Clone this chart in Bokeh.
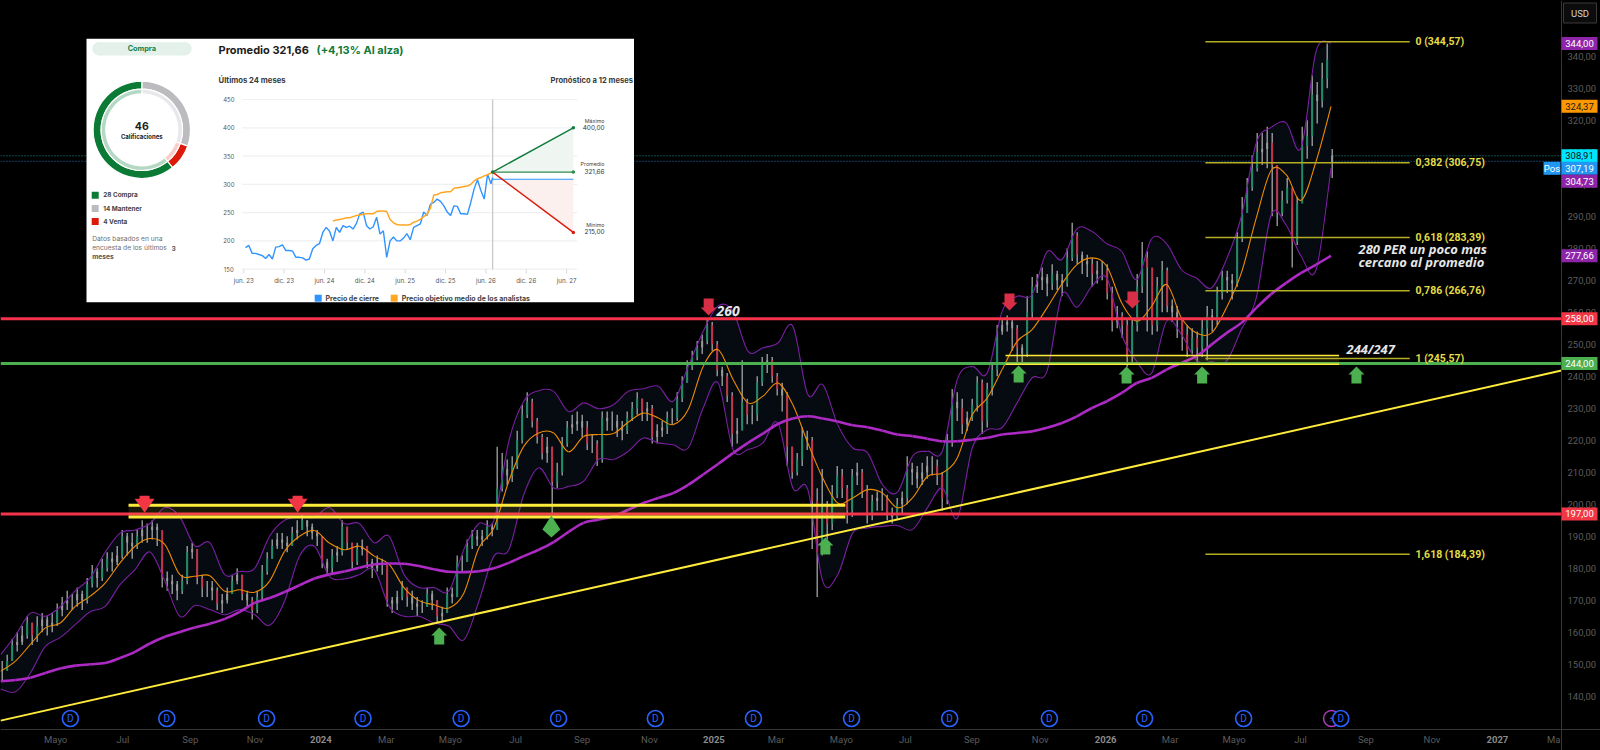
from math import pi
from bokeh.plotting import figure
from bokeh.models import (FixedTicker, Range1d, GlobalInlineStyleSheet)
from bokeh.core.properties import value
from bokeh.embed import file_html
from bokeh.resources import INLINE

# ---------- main chart data (months since Jan 2023, prices in USD) ----------
tick_months = [3.9,5.96,8.02,10.0,12.01,14.01,15.97,17.97,20.0,22.06,24.03,25.93,27.93,29.89,31.92,34.01,36.01,37.98,39.94,41.97,43.97,45.99,47.99]
tick_labels = ["Mayo","Jul","Sep","Nov","2024","Mar","Mayo","Jul","Sep","Nov","2025","Mar","Mayo","Jul","Sep","Nov","2026","Mar","Mayo","Jul","Sep","Nov","2027"]
price_ticks = list(range(140, 350, 10))

bar_close = [148,151,156,157,159,163,159,162,164,162,163,167,169,170,170,172,170,175,179,177,180,183,182,184,190,188,187,190,192,192,193,192,
177,176,175,173,176,185,186,177,174,174,173,169,170,172,176,178,172,170,167,171,179,183,187,189,188,187,191,192,195,193,191,190,182,180,184,185,193,188,182,186,187,182,180,181,181,170,169,171,174,171,169,168,168,172,170,165,166,172,171,182,182,187,190,189,190,193,192,
205,
211,209,212,220,228,232,226,221,216,218,207,210,219,224,225,226,224,219,219,214,227,226,226,224,223,227,230,233,229,230,221,223,224,227,227,233,238,243,246,249,251,256,250,242,240,234,222,223,232,228,228,238,244,245,240,236,234,218,210,214,221,220,201,185,199,194,203,209,205,198,209,210,204,197,201,202,202,197,196,200,202,211,210,208,210,212,212,209,202,220,232,230,225,227,231,238,226,236,242,254,
256,257,255,249,247,260,268,270,271,269,272,270,269,277,284,278,276,275,272,273,273,266,257,259,256,246,256,268,277,274,256,268,273,262,260,258,253,248,252,249,255,259,258,266,271,270,269,283,291,
299,305,310,311,313,306,291,295,299,282,294,312,315,328,326,333,339,307]
bar_high = [151,153,158,160,162,165,163,165,166,165,166,169,171,173,172,174,173,177,181,180,183,185,185,187,192,191,191,192,195,194,195,194,
184,179,178,176,178,187,188,186,178,176,176,174,172,174,178,180,178,173,171,173,181,185,189,191,191,190,193,195,197,195,194,192,190,183,186,187,195,193,188,188,189,187,183,184,183,181,171,173,176,174,173,171,170,174,173,170,168,174,174,184,184,189,192,192,192,195,194,
218,
216,214,215,223,231,235,233,227,222,221,218,213,221,226,228,229,228,226,222,220,229,229,229,228,226,229,232,235,233,232,231,225,226,229,230,235,240,245,248,251,253,258,257,251,243,241,235,227,245,233,231,240,246,247,246,241,238,235,218,216,224,223,221,205,211,201,206,212,211,206,211,213,211,206,203,204,205,203,199,202,204,215,213,212,213,215,215,214,210,222,236,235,233,229,233,240,239,238,244,256,
258,259,258,256,250,265,271,272,274,272,275,273,272,280,288,285,279,278,277,276,276,275,268,262,260,258,258,272,282,279,262,271,276,274,264,262,258,256,255,254,258,262,261,268,273,273,272,285,296,
302,309,316,316,318,316,306,298,302,293,296,318,320,334,332,338,344,311]
bar_low = [145,148,151,154,156,158,156,157,160,159,160,162,165,167,167,168,167,169,174,174,176,179,179,181,183,184,183,186,188,188,189,187,
174,173,172,170,172,175,183,175,171,171,170,167,166,169,172,175,170,168,164,166,170,178,183,186,186,185,187,189,192,190,189,187,180,178,178,182,184,186,180,181,184,180,177,179,178,168,166,167,170,168,167,165,166,168,167,163,163,166,169,171,179,182,186,187,187,189,190,
197,
204,206,207,211,219,227,224,219,214,213,197,205,209,218,222,223,221,217,216,212,213,223,223,221,220,222,226,228,226,226,219,219,221,222,225,226,232,238,242,245,247,250,248,240,237,232,218,219,224,225,225,226,237,241,238,234,229,212,208,209,212,217,186,171,184,189,192,202,202,194,196,206,202,194,195,198,198,195,194,195,197,200,206,205,206,208,209,206,198,200,218,226,222,223,226,229,222,224,234,240,
253,254,248,244,244,246,258,266,267,265,267,267,265,268,276,275,272,271,268,269,270,264,254,255,252,243,244,254,266,254,253,254,260,260,257,252,248,246,247,244,246,245,254,256,264,266,264,268,282,
293,298,304,306,305,290,287,290,294,274,281,306,308,312,319,324,330,302]
bar_open_gaps = {266: 309}

bb_upper = [153,159,166,165,168,173,177,185,191,192,194,199,196,187,188,178,179,180,190,195,196,196,199,194,194,188,190,178,174,174,173,186,194,195,
219.7,232.2,235.5,235.3,229,231.7,229.9,231.1,235.3,236.1,236.9,232.2,243.1,254,262,260.3,247.8,248.9,250.4,255.6,234.3,237.4,224.9,217.6,216.1,206.1,203.8,215,216.6,216.6,239,243.1,241,
260.3,265,265.5,278.9,276.5,286.1,285.3,281.4,279,270.2,283,281.4,273.3,270.7,267.6,276.5,290,
312.9,317.8,319.2,311.4,341.6,344.2]
bb_lower = [142.3,141.4,147.3,155.6,158.4,162.4,166.4,168.1,174.9,179.6,185.1,175.9,165,168.4,167.1,165.5,167.1,165.5,162.2,169.7,183.8,186.9,177.5,176.7,178,179.6,168.1,165,165,162.9,161.9,157.7,169.7,183.8,
185.8,203,211.4,205.1,205.6,207.2,214,214,216.6,220.7,219.2,218.6,217.6,230.1,237.9,217.1,217.1,219.2,225.4,205.1,204.6,175.9,178,191,192.6,193.1,193.4,192.1,198.9,205.1,195.7,217.6,223.3,
224,231.7,239.5,241.6,265.5,261.6,268.1,270.7,253,244.7,241,257.2,253,244.9,244.5,244.7,254.6,
264.5,290.5,287.2,277.5,273.3,305.1]
bb_basis = [147.8,151,156.2,161.4,162.9,168.1,171.3,175.4,181.7,186.9,189.3,187.4,178,177.5,177.7,172.8,173.3,172.5,176,185.3,190,191.8,187.9,185.8,186.9,183.8,181.2,173.9,169.9,168.6,167.6,172.3,186.4,192.6,
207.2,218.1,222.3,222.3,216.4,221.2,221.8,222.1,225.7,228.5,227,224.9,229.6,243.1,248.3,239,231.7,233.8,237.9,231.1,219.2,208.2,200.4,202,204.6,203.5,198.9,202,208.7,209.8,214.5,228,233.2,
242.1,250.9,254.6,261.4,268.9,274.9,277,274.4,262.9,257.2,261.9,268.7,258.2,253.5,253.5,261.4,272.3,
289.5,304.4,303,295,307.2,324.37]
ma_long = [144.7,145.1,145.8,147.3,148.7,149.6,150,150.4,152,153.9,156.5,158.6,160.1,161.5,162.7,164.2,166.4,169.2,170.7,172.6,174.7,176.8,178.1,179,180.2,181.2,181.5,181.4,180.7,179.7,178.9,178.8,179.1,180,
181.7,183.8,185.8,188.2,191.4,194.2,195.2,196.3,198.3,200.4,202,203.5,206.1,209.3,212.6,216,219.2,222.1,225.1,226.8,227.5,226.8,225.9,224.7,224.1,223,221.8,221.3,220.5,219.7,219.7,220.2,220.8,
221.8,222.3,222.8,223.9,225.4,227.5,230.1,232.2,234.8,237.9,239.5,242.1,244.2,246.3,249.9,253.5,256.7,
261.4,265.7,269.2,272.3,274.9,277.66]

red_levels = [258.0, 197.0]
green_level = 244.0
channel_high = [199.7, 246.5]
channel_low = [196.0, 243.75]
channel_start = [6.13, 32.95]
channel_end = [28.05, 43.15]
trend_month = [2.214, 49.95]
trend_price = [132.4, 241.8]
fib_levels = [344.57, 306.75, 283.39, 266.76, 245.57, 184.39]
fib_labels = ["0 (344,57)", "0,382 (306,75)", "0,618 (283,39)", "0,786 (266,76)", "1 (245,57)", "1,618 (184,39)"]
fib_start, fib_end = 39.06, 45.31
last_cyan, last_blue = 308.91, 307.19

up_month = [15.63, 27.44, 33.35, 36.65, 38.96, 43.68]
up_price = [161.5, 189.6, 243.4, 243.1, 243.1, 243.1]
diamond_month, diamond_price = 19.06, 196.5
down_month = [23.87, 33.07, 36.83]
down_price = [259.0, 260.6, 261.2]
wide_down_month = [6.62, 11.3]
wide_down_price = [197.4, 197.4]
div_month = [4.35, 7.3, 10.35, 13.3, 16.3, 19.28, 22.24, 25.24, 28.24, 31.24, 34.29, 37.2, 40.23, 43.2]
event_month = 42.92

tag_labels = ["344,00","324,37","308,91","307,19","304,73","277,66","258,00","244,00","197,00"]
tag_prices = [344.0,324.37,308.91,307.19,304.73,277.66,258.0,244.0,197.0]
tag_fill = ["#8e24aa","#ff9800","#00e5ff","#2196f3","#8e24aa","#8e24aa","#f23645","#4caf50","#f23645"]
tag_ink = ["#ffffff","#1a1a1a","#101010","#ffffff","#ffffff","#ffffff","#ffffff","#ffffff","#ffffff"]
tag_shift = [0,0,0,-7,-12,0,0,0,0]

# ---------- inset data ----------
rating_counts = [14, 4, 28]
rating_names = ["28 Compra", "14 Mantener", "4 Venta"]
inset_y_ticks = [450,400,350,300,250,200,150]
inset_x_ticks = [0,6,12,18,24,30,36,42,48]
inset_x_labels = ["jun. 23","dic. 23","jun. 24","dic. 24","jun. 25","dic. 25","jun. 26","dic. 26","jun. 27"]
inset_close = [188,192,178,178,176,174,169,176,168,189,190,193,183,183,182,171,171,170,166,168,186,192,195,215,224,217,200,224,215,227,224,226,221,231,248,251,227,221,225,242,212,218,171,200,207,200,200,205,213,202,224,227,230,251,245,265,268,274,270,262,251,245,262,261,248,248,247,268,292,308,289,274,318,301,312]
inset_target = [235,237,238,239,241,241,243,245,246,247,248,248,248,252,253,253,252,238,232,229,228,228,228,229,233,235,238,243,247,258,281,282,285,286,287,287,293,294,295,296,297,300,306,310,312,315,317,320,321.66]
fc_now, fc_end = 37.0, 49.0
fc_avg, fc_max, fc_min, fc_last = 321.66, 400.0, 215.0, 309.0

# ---------- scales: the frame fills the page, axes are pinned inside it ----------
PX_MONTH = 32.7
PX_PRICE = 3.2
X0 = 2.214
Y1 = 357.44

def mx(px): return X0 + px / PX_MONTH
def py(y): return Y1 - y / PX_PRICE

X1 = mx(1561)            # month at the price axis
XR = mx(1600)
Y0 = py(750)
FONT = value("Roboto")

p = figure(width=1600, height=750, output_backend="svg", toolbar_location=None,
           x_range=Range1d(X0, XR), y_range=Range1d(Y0, Y1),
           y_axis_location="right", background_fill_color="#000000", border_fill_color="#000000",
           min_border_left=0, min_border_top=0, min_border_right=0, min_border_bottom=0,
           outline_line_color=None)
p.stylesheets = [GlobalInlineStyleSheet(css="html,body{margin:0;padding:0;background:#000;overflow:hidden}")]
p.grid.visible = False

ya = p.yaxis[0]
ya.fixed_location = X1
ya.ticker = FixedTicker(ticks=price_ticks)
ya.major_label_overrides = {t: f"{t},00" for t in price_ticks}
ya.major_label_text_color = "#5c5c5c"
ya.major_label_text_font = "Roboto"
ya.major_label_text_font_size = "9.5px"
ya.major_tick_line_color = None
ya.major_tick_in = 0
ya.major_tick_out = 0
ya.minor_tick_line_color = None
ya.minor_tick_in = 0
ya.minor_tick_out = 0
ya.axis_line_color = "#363636"
ya.major_label_standoff = 6

xa = p.xaxis[0]
xa.fixed_location = py(729)
xa.ticker = FixedTicker(ticks=tick_months)
xa.major_label_overrides = {m: ("" if l.isdigit() else l) for m, l in zip(tick_months, tick_labels)}
xa.major_label_text_color = "#5c5c5c"
xa.major_label_text_font = "Roboto"
xa.major_label_text_font_size = "9.5px"
xa.major_tick_line_color = None
xa.major_tick_in = 0
xa.major_tick_out = 0
xa.minor_tick_line_color = None
xa.minor_tick_in = 0
xa.minor_tick_out = 0
xa.axis_line_color = "#363636"
xa.major_label_standoff = 4

# ---------- last price dotted lines ----------
p.line([X0, X1], [last_cyan, last_cyan], line_color="#0f9a9a", line_width=1, line_dash="1 2")
p.line([X0, X1], [last_blue, last_blue], line_color="#1f78c8", line_width=1, line_dash="1 2")

# ---------- bands, candles, lines ----------
line_x = [X0 + j * 14.95 / PX_MONTH for j in range(90)]
bar_x = [X0 + (1.67 + i * 5.0) / PX_MONTH for i in range(267)]
bar_open = [bar_close[0]] + bar_close[:-1]
for k, v in bar_open_gaps.items():
    bar_open[k] = v

def curve(xs, ys, **kw):
    """Draw a smooth path through the read points (one Bezier per pair of points)."""
    n = len(xs)
    cx0 = [xs[i] + (xs[i + 1] - xs[max(i - 1, 0)]) / 6 for i in range(n - 1)]
    cy0 = [ys[i] + (ys[i + 1] - ys[max(i - 1, 0)]) / 6 for i in range(n - 1)]
    cx1 = [xs[i + 1] - (xs[min(i + 2, n - 1)] - xs[i]) / 6 for i in range(n - 1)]
    cy1 = [ys[i + 1] - (ys[min(i + 2, n - 1)] - ys[i]) / 6 for i in range(n - 1)]
    p.bezier(x0=xs[:-1], y0=ys[:-1], x1=xs[1:], y1=ys[1:], cx0=cx0, cy0=cy0, cx1=cx1, cy1=cy1, **kw)

p.varea(line_x, bb_lower, bb_upper, fill_color="#060b11")
p.segment(bar_x, bar_low, bar_x, bar_high, line_color="#c2c2c2", line_width=1.1)
body_col = ["#9a9a9a" if abs(c - o) <= 2 else ("#1f8a66" if c > o else "#c2324a") for o, c in zip(bar_open, bar_close)]
p.vbar(bar_x, width=0.06, bottom=bar_open, top=bar_close, fill_color=body_col, line_color=None)
curve(line_x, bb_upper, line_color="#7b1fa2", line_width=1.1)
curve(line_x, bb_lower, line_color="#7b1fa2", line_width=1.1)
curve(line_x, bb_basis, line_color="#ef8c00", line_width=1.1)
curve(line_x, ma_long, line_color="#ad2bc4", line_width=2.6)

# ---------- levels ----------
for lv in red_levels:
    p.line([X0, X1], [lv, lv], line_color="#f5334b", line_width=3)
p.line([X0, X1], [green_level, green_level], line_color="#4caf50", line_width=3)
for hi, lo, a, b, w in zip(channel_high, channel_low, channel_start, channel_end, [3, 1.6]):
    p.quad(left=a, right=b, bottom=lo, top=hi, fill_color="#ffeb3b", fill_alpha=0.1, line_color=None)
    p.line([a, b], [hi, hi], line_color="#ffeb3b", line_width=w)
    p.line([a, b], [lo, lo], line_color="#ffeb3b", line_width=w)
p.line(trend_month, trend_price, line_color="#ffeb3b", line_width=2)

for lv, lb in zip(fib_levels, fib_labels):
    p.line([fib_start, fib_end], [lv, lv], line_color="#b5ad24", line_width=1.5)
p.text(x=[mx(1415)] * 6, y=fib_levels, text=fib_labels, text_font=FONT, text_font_size="10.5px",
       text_font_style="bold", text_color="#e3dc45", text_baseline="middle")

# ---------- arrows ----------
def block(mc, pc, direction, half=8, head=8, length=17, stem=5):
    dx = lambda v: v / PX_MONTH
    d = direction / PX_PRICE
    xs = [mc, mc + dx(half), mc + dx(stem), mc + dx(stem), mc - dx(stem), mc - dx(stem), mc - dx(half)]
    ys = [pc, pc - d * head, pc - d * head, pc - d * length, pc - d * length, pc - d * head, pc - d * head]
    return xs, ys

gx, gy = zip(*[block(m, v, 1) for m, v in zip(up_month, up_price)])
p.patches(list(gx), list(gy), fill_color="#4caf50", line_color=None)
k_w, k_h, k_l = 9 / PX_MONTH, 14 / PX_PRICE, 22 / PX_PRICE
p.patch([diamond_month, diamond_month + k_w, diamond_month, diamond_month - k_w],
        [diamond_price, diamond_price - k_h, diamond_price - k_l, diamond_price - k_h],
        fill_color="#4caf50", line_color=None)
rx, ry = zip(*[block(m, v, -1) for m, v in zip(down_month, down_price)])
p.patches(list(rx), list(ry), fill_color="#d92f46", line_color=None)
wx, wy = zip(*[block(m, v, -1, half=10, head=14, length=17) for m, v in zip(wide_down_month, wide_down_price)])
p.patches(list(wx), list(wy), fill_color="#f23645", line_color=None)

# ---------- dividend circles ----------
div_price = [py(718)] * len(div_month)
p.scatter([event_month], [py(718)], size=16, marker="circle", fill_color="#000000", line_color="#b03ac0", line_width=1.4)
p.text(x=[event_month], y=[py(718)], text=["\u26a1"], text_font=value("DejaVu Sans"), text_font_size="9px",
       text_color="#b03ac0", text_align="center", text_baseline="middle")
p.scatter(div_month, div_price, size=16, marker="circle", fill_color="#000000", line_color="#2962ff", line_width=1.6)
p.text(x=div_month, y=div_price, text=["D"] * len(div_month), text_font=FONT, text_font_size="10px",
       text_color="#2962ff", text_align="center", text_baseline="middle")

# ---------- hand written notes ----------
def note(px, y, t, size=13):
    p.text(x=[mx(px)], y=[py(y)], text=[t], text_font=value("Open Sans"), text_font_size=f"{size}px",
           text_font_style="bold italic", text_color="#e6e6e6", text_baseline="middle")
note(716, 310, "260", 14)
note(1346, 348, "244/247", 13)
note(1358, 248, "280 PER un poco mas", 13)
note(1358, 261, "cercano al promedio", 13)

# ---------- inset (white panel with analyst ratings) ----------
IPX, IPY = 6.725, 0.5657
def ix(px): return (px - 243.3) / IPX
def iy(y): return 150 + (268.7 - y) / IPY
p.extra_x_ranges = {"ix": Range1d(ix(0), ix(1600))}
p.extra_y_ranges = {"iy": Range1d(iy(750), iy(0))}
IR = dict(x_range_name="ix", y_range_name="iy")

p.quad(left=ix(86), right=ix(633.5), bottom=iy(301.7), top=iy(38.3), fill_color="#ffffff", line_color=None, **IR)

def itext(px, y, t, size, color="#333333", bold=False, align="left"):
    p.text(x=[ix(px)], y=[iy(y)], text=[t], text_font=value("Inter"), text_font_size=f"{size}px",
           text_color=color, text_font_style="bold" if bold else "normal", text_align=align,
           text_baseline="middle", **IR)

# pill
p.scatter([ix(98.5), ix(184.5)], [iy(48.3)] * 2, size=13.5, marker="circle", fill_color="#e4f1ea", line_color=None, **IR)
p.quad(left=ix(98.5), right=ix(184.5), bottom=iy(55), top=iy(41.7), fill_color="#e4f1ea", line_color=None, **IR)
itext(141.3, 48.3, "Compra", 7.3, "#12804a", True, "center")
itext(218, 49.5, "Promedio 321,66", 11, "#1c1c1c", True)
itext(316, 49.5, "(+4,13% Al alza)", 11, "#0f7a3a", True)
itext(218, 79.7, "Últimos 24 meses", 7.7, "#3a3a3a", True)
itext(632.5, 79.7, "Pronóstico a 12 meses", 7.6, "#3a3a3a", True, "right")

# donut (counts run clockwise from twelve o'clock)
dark = ["#bcbcc0", "#dc1a0a", "#0a7a35"]
light = ["#e8e8ec", "#f8cdc8", "#b4d8c3"]
total = sum(rating_counts)
ang = pi / 2
for c, d, l in zip(rating_counts, dark, light):
    nxt = ang - 2 * pi * c / total
    for inner, outer, col in [(40.7, 48.7, d), (36, 40.7, l)]:
        p.annular_wedge(x=[ix(141.3)], y=[iy(129.3)], inner_radius=inner, outer_radius=outer,
                        inner_radius_units="screen", outer_radius_units="screen",
                        start_angle=nxt, end_angle=ang, fill_color=col, line_color="#ffffff", line_width=1.2, **IR)
    ang = nxt
itext(141.3, 125.3, "46", 10.5, "#1c1c1c", True, "center")
itext(141.3, 135.7, "Calificaciones", 6, "#1c1c1c", True, "center")

for name, col, y in zip(rating_names, ["#0a7a35", "#bcbcc0", "#dc1a0a"], [194.7, 208, 221]):
    p.scatter([ix(94.7)], [iy(y)], size=7, marker="square", fill_color=col, line_color=None, **IR)
    itext(102.7, y, name, 6.4, "#444444", True)
itext(91.7, 238.7, "Datos basados en una", 6.7, "#707070")
itext(91.7, 247.7, "encuesta de los últimos", 6.7, "#707070")
itext(171, 247.7, "3", 6.7, "#555555", True)
itext(91.7, 256.3, "meses", 6.7, "#555555", True)

# inset axes
x_end = ix(576.7)
x_start = ix(241.7)
for t in inset_y_ticks:
    p.line([x_start, x_end], [t, t], line_color="#eef0f2", line_width=1.2, **IR)
    p.text(x=[ix(228.3)], y=[t], text=[str(t)], text_font=value("Inter"), text_font_size="6px", text_color="#555555",
           text_align="center", text_baseline="middle", **IR)
for t, lb in zip(inset_x_ticks, inset_x_labels):
    p.line([t, t], [150, iy(273)], line_color="#d8dadd", line_width=1, **IR)
    p.text(x=[t], y=[iy(280.3)], text=[lb], text_font=value("Inter"), text_font_size="6.2px", text_color="#555555",
           text_align="center", text_baseline="middle", **IR)
p.line([fc_now, fc_now], [150, 450], line_color="#c8c8c8", line_width=1.3, **IR)

# forecast
cross = fc_now + (fc_avg - fc_last) / (fc_avg - fc_min) * (fc_end - fc_now)
p.patch([fc_now, fc_end, fc_end], [fc_avg, fc_max, fc_avg], fill_color="#eff6f1", line_color=None, **IR)
p.patch([cross, fc_end, fc_end], [fc_last, fc_last, fc_min], fill_color="#fbf0ee", line_color=None, **IR)

close_m = [0.25 + 0.5 * i for i in range(74)] + [fc_now]
p.line(close_m, inset_close, line_color="#2f94ff", line_width=1.4, **IR)
p.line(close_m[26:], inset_target, line_color="#ffa722", line_width=1.5, **IR)
p.line([fc_now, fc_end], [fc_last, fc_last], line_color="#2f94ff", line_width=1.2, **IR)
for v, col in [(fc_max, "#0f7a3a"), (fc_avg, "#2e8b4e"), (fc_min, "#dc1a0a")]:
    p.line([fc_now, fc_end], [fc_avg, v], line_color=col, line_width=1.4, **IR)
    p.scatter([fc_end], [v], size=3.5, marker="circle", fill_color=col, line_color=None, **IR)
p.scatter([fc_now], [fc_avg], size=3.5, marker="circle", fill_color="#0f7a3a", line_color=None, **IR)

for lab, val, y1, y2 in [("Máximo", "400,00", 120.3, 127.3), ("Promedio", "321,66", 163.7, 171), ("Mínimo", "215,00", 224, 231.3)]:
    itext(604, y1, lab, 5.3, "#444444", False, "right")
    itext(604, y2, val, 6.4, "#333333", False, "right")

p.scatter([ix(317.7)], [iy(297.7)], size=7, marker="square", fill_color="#2f94ff", line_color=None, **IR)
itext(325, 297.7, "Precio de cierre", 7, "#444444", True)
p.scatter([ix(393.7)], [iy(297.7)], size=7, marker="square", fill_color="#ffa722", line_color=None, **IR)
itext(401.3, 297.7, "Precio objetivo medio de los analistas", 7, "#444444", True)

# ---------- year labels on the time axis ----------
year_m = [m for m, l in zip(tick_months, tick_labels) if l.isdigit()]
year_t = [l for l in tick_labels if l.isdigit()]
p.text(x=year_m, y=[py(739)] * len(year_m), text=year_t, text_font=FONT, text_font_size="9.5px", text_font_style="bold",
       text_color="#8a8a8a", text_align="center", text_baseline="middle")
p.text(x=[X1 - 0.03], y=[py(739)], text=["Ma"], text_font=FONT, text_font_size="9.5px",
       text_color="#5c5c5c", text_align="right", text_baseline="middle")

# ---------- price tags (drawn above the axis labels) ----------
def tag(px, pr, shift, t, fc, ink, w=36, h=13, border=None):
    yy = pr + shift / PX_PRICE
    p.rect(x=[mx(px)], y=[yy], width=w / PX_MONTH, height=h / PX_PRICE, fill_color=fc,
           line_color=border, level="overlay")
    p.text(x=[mx(px)], y=[yy], text=[t], text_font=FONT, text_font_size="9.5px", text_color=ink,
           text_align="center", text_baseline="middle", level="overlay")

for lab, pr, fc, ink, sh in zip(tag_labels, tag_prices, tag_fill, tag_ink, tag_shift):
    tag(1579, pr, sh, lab, fc, ink)
tag(1551.5, last_blue, -7, "Pos", "#2196f3", "#ffffff", w=17)
tag(1579.5, py(12.5), 0, "USD", "#0c0c0c", "#d1d4dc", w=33, h=20, border="#3a3a3a")

open("out.html", "w").write(file_html(p, INLINE))
